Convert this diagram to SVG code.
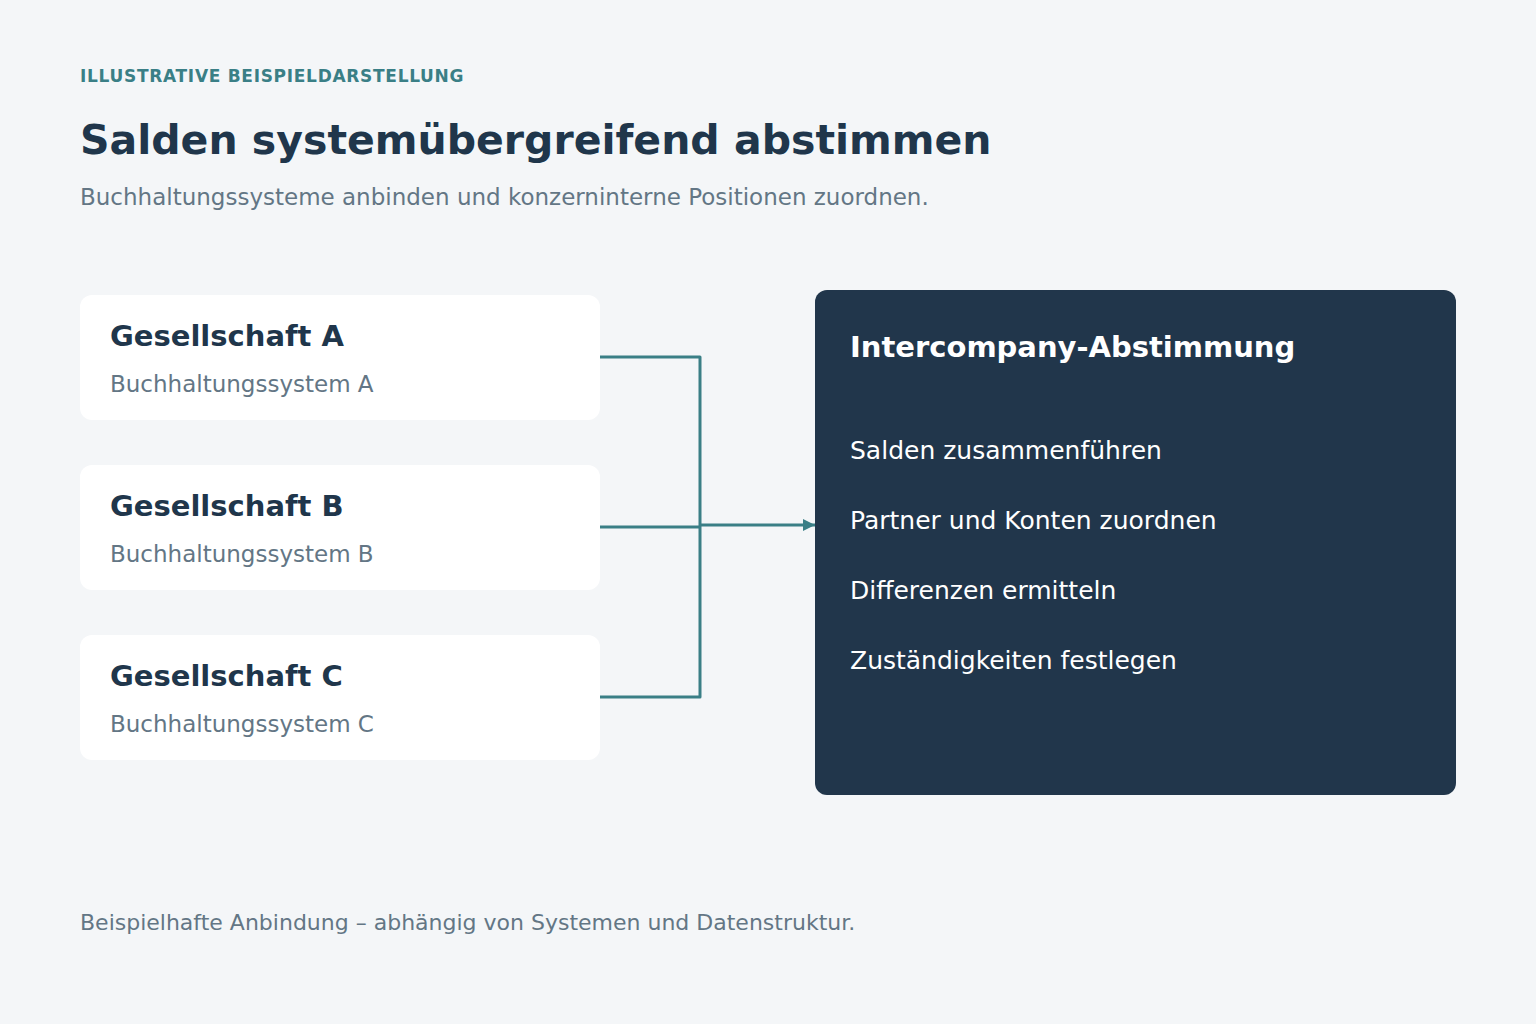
<svg xmlns="http://www.w3.org/2000/svg" width="1536" height="1024" viewBox="0 0 1536 1024">
<defs>
<style>
text{font-family:"DejaVu Sans","Noto Sans",sans-serif}
.eyebrow{font-size:17px;font-weight:bold;fill:#3a7f86;letter-spacing:0.7px}
.title{font-size:41px;font-weight:bold;fill:#20364b}
.sub{font-size:23px;fill:#637685}
.card{fill:#ffffff}
.ct{font-size:29px;font-weight:bold;fill:#20364b}
.cs{font-size:23px;fill:#637685}
.panel{fill:#21364b}
.pt{font-size:29px;font-weight:bold;fill:#ffffff}
.pi{font-size:25px;fill:#ffffff}
.conn{fill:none;stroke:#3a7f86;stroke-width:3;stroke-linejoin:round}
.foot{font-size:22px;fill:#637685}
</style>
<marker id="arr" viewBox="0 0 10 10" refX="10" refY="5" markerWidth="4" markerHeight="4" orient="auto" markerUnits="strokeWidth">
<path d="M0,0 L10,5 L0,10 z" fill="#3a7f86"/>
</marker>
</defs>
<rect width="1536" height="1024" fill="#f4f6f8"/>
<g id="header">
<text class="eyebrow" x="80" y="82">ILLUSTRATIVE BEISPIELDARSTELLUNG</text>
<text class="title" x="80" y="154">Salden systemübergreifend abstimmen</text>
<text class="sub" x="80" y="205">Buchhaltungssysteme anbinden und konzerninterne Positionen zuordnen.</text>
</g>
<g id="connectors">
<path class="conn" d="M600,357 H700 V697 H600"/>
<path class="conn" d="M600,527 H700"/>
<path class="conn" d="M700,525 H815" marker-end="url(#arr)"/>
</g>
<g id="node-a">
<rect class="card" x="80" y="295" width="520" height="125" rx="12"/>
<text class="ct" x="110" y="346">Gesellschaft A</text>
<text class="cs" x="110" y="392">Buchhaltungssystem A</text>
</g>
<g id="node-b">
<rect class="card" x="80" y="465" width="520" height="125" rx="12"/>
<text class="ct" x="110" y="516">Gesellschaft B</text>
<text class="cs" x="110" y="562">Buchhaltungssystem B</text>
</g>
<g id="node-c">
<rect class="card" x="80" y="635" width="520" height="125" rx="12"/>
<text class="ct" x="110" y="686">Gesellschaft C</text>
<text class="cs" x="110" y="732">Buchhaltungssystem C</text>
</g>
<g id="node-ic">
<rect class="panel" x="815" y="290" width="641" height="505" rx="12"/>
<text class="pt" x="850" y="357">Intercompany-Abstimmung</text>
<text class="pi" x="850" y="459">Salden zusammenführen</text>
<text class="pi" x="850" y="529">Partner und Konten zuordnen</text>
<text class="pi" x="850" y="599">Differenzen ermitteln</text>
<text class="pi" x="850" y="669">Zuständigkeiten festlegen</text>
</g>
<g id="footer">
<text class="foot" x="80" y="930">Beispielhafte Anbindung – abhängig von Systemen und Datenstruktur.</text>
</g>
</svg>
